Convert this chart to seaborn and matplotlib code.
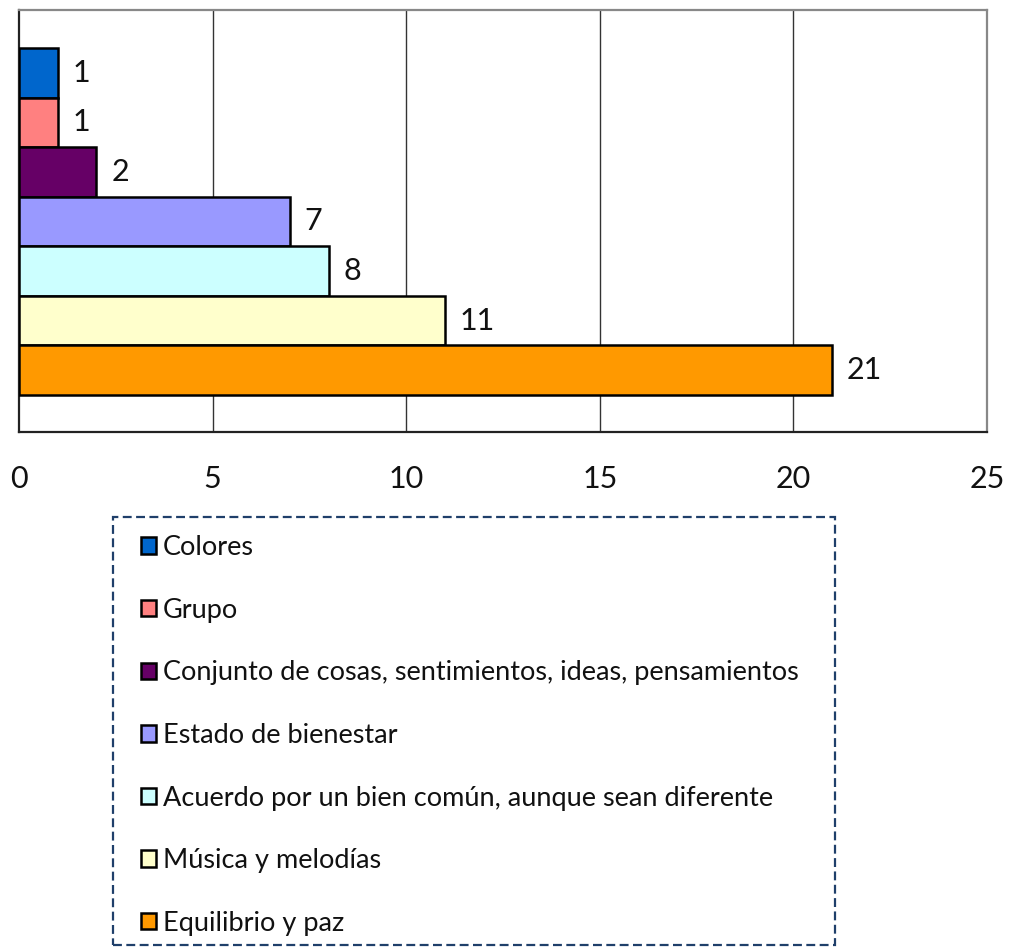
import matplotlib
matplotlib.use("Agg")
import matplotlib.pyplot as plt
import seaborn as sns
import pandas as pd
from matplotlib.patches import Patch, Rectangle

categories = ["Colores", "Grupo", "Conjunto de cosas, sentimientos, ideas, pensamientos",
              "Estado de bienestar", "Acuerdo por un bien común, aunque sean diferente",
              "Música y melodías", "Equilibrio y paz"]
values = [1, 1, 2, 7, 8, 11, 21]
colors = ["#0066CC", "#FF8080", "#660066", "#9999FF", "#CCFFFF", "#FFFFCC", "#FF9900"]
xticks = [0, 5, 10, 15, 20, 25]

sns.set_theme(style="white")
plt.rcParams['font.family'] = ['Lato', 'DejaVu Sans']

df = pd.DataFrame({"cat": categories, "val": values})
fig = plt.figure(figsize=(10.09, 9.49), dpi=100)
ax = fig.add_axes([19/1009, 1-432/949, (987-19)/1009, (432-10)/949])

sns.barplot(data=df, x="val", y="cat", hue="cat", palette=colors, order=categories,
            hue_order=categories, orient="h", width=1.0, dodge=False, legend=False,
            saturation=1, edgecolor="black", linewidth=1.8, ax=ax, zorder=3)

ax.set_xlim(0, 25)
ax.set_ylim(6.5 + 0.745, -0.5 - 0.765)
ax.set_xticks(xticks)
ax.set_xticklabels([str(t) for t in xticks], fontsize=22, color="#111111")
ax.tick_params(axis="x", length=0, pad=24)
ax.set_yticks([])
ax.set_xlabel("")
ax.set_ylabel("")
for x in xticks[1:-1]:
    ax.axvline(x, color="#333333", linewidth=1.0, zorder=1)
for side in ["left", "bottom"]:
    ax.spines[side].set_color("#222222")
    ax.spines[side].set_linewidth(1.6)
for side in ["top", "right"]:
    ax.spines[side].set_color("#888888")
    ax.spines[side].set_linewidth(1.6)

for i, v in enumerate(values):
    ax.text(v + 0.38, i, str(v), va="center", ha="left", fontsize=22, color="#111111")

# legend
rect = Rectangle((113/1009, 1-945/949), (835-113)/1009, (945-517)/949,
                 transform=fig.transFigure, fill=False, edgecolor="#1F3F6A",
                 linestyle=(0, (4, 2)), linewidth=1.6)
fig.patches.append(rect)
handles = [Patch(facecolor=c, edgecolor="black", linewidth=1.8) for c in colors]
leg = fig.legend(handles, categories, loc="upper left",
                 bbox_to_anchor=(141/1009, 1-535/949), frameon=False,
                 fontsize=19.5, handlelength=0.55, handleheight=0.55,
                 handletextpad=0.25, labelspacing=1.39, borderpad=0, borderaxespad=0)
for t in leg.get_texts():
    t.set_color("#111111")

fig.savefig("out.png", dpi=100)
